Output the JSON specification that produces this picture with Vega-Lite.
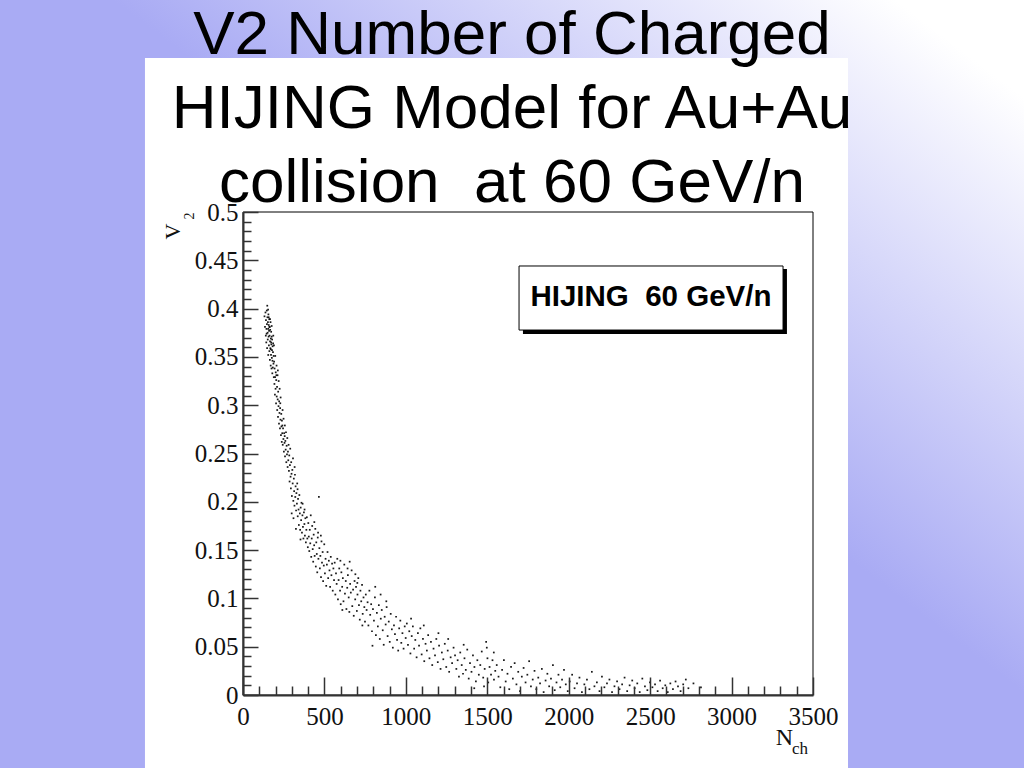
{
  "$schema": "https://vega.github.io/schema/vega-lite/v6.json",
  "width": 570,
  "height": 483,
  "autosize": {"type": "none"},
  "padding": {"left": 243, "top": 212, "right": 211, "bottom": 73},
  "background": "#a9abf4",
  "config": {"view": {"stroke": null}},
  "title": {
    "text": ["V2 Number of Charged", "HIJING Model for Au+Au", "collision\u00a0\u00a0at 60 GeV/n"],
    "font": "Liberation Sans",
    "fontSize": 62,
    "fontWeight": "normal",
    "color": "#000000",
    "anchor": "middle",
    "frame": "group",
    "lineHeight": 74,
    "baseline": "alphabetic",
    "offset": 0,
    "dx": -16,
    "dy": 274
  },
  "resolve": {"axis": {"x": "independent", "y": "independent"}},
  "layer": [
    {
      "data": {"values": [{"part": "slide"}]},
      "mark": {
        "type": "rect",
        "clip": false,
        "fill": {
          "gradient": "linear",
          "x1": 0, "y1": 1, "x2": 1, "y2": 0,
          "stops": [
            {"offset": 0, "color": "#a9abf4"},
            {"offset": 0.55, "color": "#a9abf4"},
            {"offset": 0.93, "color": "#ffffff"},
            {"offset": 1, "color": "#ffffff"}
          ]
        }
      },
      "encoding": {
        "x": {"datum": -1510, "type": "quantitative", "scale": {"domain": [0, 3500], "nice": false, "zero": false}, "axis": null},
        "x2": {"datum": 4810},
        "y": {"datum": 0.73, "type": "quantitative", "scale": {"domain": [0, 0.5], "nice": false, "zero": false}, "axis": null},
        "y2": {"datum": -0.08}
      }
    },
    {
      "data": {"values": [{"part": "panel"}]},
      "mark": {"type": "rect", "clip": false, "fill": "#ffffff"},
      "encoding": {
        "x": {"datum": -602, "type": "quantitative", "scale": {"domain": [0, 3500], "nice": false, "zero": false}, "axis": null},
        "x2": {"datum": 3715},
        "y": {"datum": 0.6594, "type": "quantitative", "scale": {"domain": [0, 0.5], "nice": false, "zero": false}, "axis": null},
        "y2": {"datum": -0.08}
      }
    },
    {
      "data": {"values": [{"part": "frame"}]},
      "mark": {"type": "rect", "clip": false, "filled": false, "stroke": "#000000", "strokeWidth": 1},
      "encoding": {
        "x": {"datum": 0, "type": "quantitative", "scale": {"domain": [0, 3500], "nice": false, "zero": false}, "axis": null},
        "x2": {"datum": 3500},
        "y": {"datum": 0.5, "type": "quantitative", "scale": {"domain": [0, 0.5], "nice": false, "zero": false}, "axis": null},
        "y2": {"datum": 0}
      }
    },
    {
      "data": {"values": [
        {"n":132,"v":0.392},{"n":135,"v":0.381},{"n":138,"v":0.396},{"n":140,"v":0.372},{"n":141,"v":0.388},{"n":143,"v":0.365},{"n":144,"v":0.379},{"n":146,"v":0.398},{"n":147,"v":0.384},{"n":148,"v":0.359},
        {"n":150,"v":0.391},{"n":151,"v":0.375},{"n":152,"v":0.368},{"n":153,"v":0.386},{"n":155,"v":0.379},{"n":155,"v":0.352},{"n":156,"v":0.394},{"n":157,"v":0.371},{"n":158,"v":0.383},{"n":159,"v":0.362},
        {"n":160,"v":0.377},{"n":161,"v":0.389},{"n":162,"v":0.356},{"n":163,"v":0.372},{"n":164,"v":0.381},{"n":165,"v":0.347},{"n":166,"v":0.366},{"n":167,"v":0.378},{"n":168,"v":0.359},{"n":169,"v":0.386},
        {"n":170,"v":0.341},{"n":171,"v":0.369},{"n":172,"v":0.352},{"n":173,"v":0.376},{"n":174,"v":0.363},{"n":175,"v":0.338},{"n":176,"v":0.371},{"n":177,"v":0.349},{"n":178,"v":0.357},{"n":179,"v":0.368},
        {"n":180,"v":0.333},{"n":181,"v":0.346},{"n":182,"v":0.361},{"n":183,"v":0.339},{"n":184,"v":0.355},{"n":186,"v":0.372},{"n":187,"v":0.343},{"n":188,"v":0.351},{"n":189,"v":0.329},{"n":190,"v":0.362},
        {"n":149,"v":0.403},{"n":154,"v":0.399},{"n":145,"v":0.374},{"n":158,"v":0.391},{"n":162,"v":0.381},{"n":166,"v":0.389},{"n":170,"v":0.358},{"n":173,"v":0.365},{"n":176,"v":0.382},{"n":185,"v":0.364},
        {"n":191,"v":0.345},{"n":193,"v":0.322},{"n":194,"v":0.338},{"n":196,"v":0.311},{"n":197,"v":0.329},{"n":198,"v":0.351},{"n":200,"v":0.317},{"n":201,"v":0.334},{"n":203,"v":0.302},{"n":204,"v":0.326},
        {"n":206,"v":0.341},{"n":207,"v":0.309},{"n":209,"v":0.319},{"n":210,"v":0.295},{"n":212,"v":0.331},{"n":213,"v":0.306},{"n":215,"v":0.288},{"n":216,"v":0.314},{"n":218,"v":0.299},{"n":219,"v":0.325},
        {"n":221,"v":0.281},{"n":222,"v":0.304},{"n":224,"v":0.292},{"n":225,"v":0.317},{"n":227,"v":0.276},{"n":228,"v":0.297},{"n":230,"v":0.285},{"n":231,"v":0.308},{"n":233,"v":0.269},{"n":235,"v":0.291},
        {"n":236,"v":0.278},{"n":238,"v":0.262},{"n":239,"v":0.284},{"n":241,"v":0.271},{"n":243,"v":0.295},{"n":244,"v":0.259},{"n":246,"v":0.276},{"n":248,"v":0.265},{"n":249,"v":0.286},{"n":251,"v":0.252},
        {"n":253,"v":0.271},{"n":255,"v":0.261},{"n":257,"v":0.279},{"n":258,"v":0.247},{"n":260,"v":0.263},{"n":262,"v":0.254},{"n":264,"v":0.272},{"n":266,"v":0.241},{"n":268,"v":0.258},{"n":270,"v":0.249},
        {"n":272,"v":0.266},{"n":274,"v":0.236},{"n":276,"v":0.252},{"n":278,"v":0.243},{"n":280,"v":0.259},{"n":205,"v":0.331},{"n":214,"v":0.336},{"n":229,"v":0.302},{"n":242,"v":0.279},{"n":256,"v":0.268},
        {"n":282,"v":0.232},{"n":284,"v":0.248},{"n":286,"v":0.221},{"n":288,"v":0.238},{"n":290,"v":0.255},{"n":292,"v":0.226},{"n":294,"v":0.214},{"n":296,"v":0.241},{"n":298,"v":0.229},{"n":300,"v":0.206},
        {"n":303,"v":0.233},{"n":305,"v":0.219},{"n":307,"v":0.245},{"n":309,"v":0.201},{"n":312,"v":0.224},{"n":314,"v":0.211},{"n":316,"v":0.196},{"n":319,"v":0.228},{"n":321,"v":0.205},{"n":323,"v":0.216},
        {"n":326,"v":0.191},{"n":328,"v":0.209},{"n":331,"v":0.198},{"n":333,"v":0.219},{"n":336,"v":0.185},{"n":338,"v":0.203},{"n":341,"v":0.192},{"n":343,"v":0.176},{"n":346,"v":0.207},{"n":349,"v":0.188},
        {"n":351,"v":0.171},{"n":354,"v":0.194},{"n":357,"v":0.181},{"n":359,"v":0.199},{"n":362,"v":0.168},{"n":365,"v":0.186},{"n":368,"v":0.174},{"n":371,"v":0.162},{"n":374,"v":0.189},{"n":377,"v":0.177},
        {"n":380,"v":0.165},{"n":383,"v":0.183},{"n":386,"v":0.158},{"n":389,"v":0.171},{"n":392,"v":0.184},{"n":395,"v":0.162},{"n":398,"v":0.153},{"n":317,"v":0.236},{"n":335,"v":0.213},{"n":353,"v":0.161},
        {"n":366,"v":0.198},{"n":378,"v":0.192},{"n":299,"v":0.188},{"n":310,"v":0.183},{"n":325,"v":0.172},
        {"n":401,"v":0.178},{"n":404,"v":0.164},{"n":407,"v":0.149},{"n":410,"v":0.171},{"n":413,"v":0.157},{"n":416,"v":0.186},{"n":419,"v":0.143},{"n":422,"v":0.162},{"n":425,"v":0.175},{"n":428,"v":0.151},
        {"n":431,"v":0.138},{"n":434,"v":0.166},{"n":437,"v":0.155},{"n":440,"v":0.144},{"n":444,"v":0.172},{"n":447,"v":0.133},{"n":450,"v":0.158},{"n":453,"v":0.146},{"n":456,"v":0.127},{"n":459,"v":0.163},
        {"n":463,"v":0.141},{"n":466,"v":0.205},{"n":469,"v":0.152},{"n":472,"v":0.131},{"n":475,"v":0.144},{"n":479,"v":0.122},{"n":482,"v":0.159},{"n":485,"v":0.137},{"n":489,"v":0.148},{"n":492,"v":0.118},
        {"n":496,"v":0.134},{"n":499,"v":0.156},{"n":503,"v":0.126},{"n":507,"v":0.141},{"n":511,"v":0.113},{"n":515,"v":0.135},{"n":519,"v":0.148},{"n":523,"v":0.121},{"n":527,"v":0.139},{"n":531,"v":0.129},
        {"n":535,"v":0.112},{"n":539,"v":0.143},{"n":543,"v":0.124},{"n":547,"v":0.136},{"n":551,"v":0.108},{"n":555,"v":0.131},{"n":559,"v":0.119},{"n":438,"v":0.179},{"n":461,"v":0.168},{"n":478,"v":0.165},
        {"n":563,"v":0.137},{"n":567,"v":0.104},{"n":571,"v":0.126},{"n":575,"v":0.115},{"n":579,"v":0.141},{"n":583,"v":0.099},{"n":587,"v":0.119},{"n":591,"v":0.131},{"n":596,"v":0.108},{"n":600,"v":0.094},
        {"n":604,"v":0.127},{"n":609,"v":0.112},{"n":613,"v":0.121},{"n":617,"v":0.097},{"n":622,"v":0.135},{"n":626,"v":0.105},{"n":631,"v":0.118},{"n":635,"v":0.089},{"n":640,"v":0.111},{"n":644,"v":0.124},
        {"n":649,"v":0.101},{"n":653,"v":0.086},{"n":658,"v":0.115},{"n":662,"v":0.106},{"n":667,"v":0.129},{"n":671,"v":0.092},{"n":676,"v":0.109},{"n":680,"v":0.082},{"n":685,"v":0.118},{"n":689,"v":0.099},
        {"n":694,"v":0.112},{"n":699,"v":0.087},{"n":703,"v":0.104},{"n":708,"v":0.121},{"n":712,"v":0.093},{"n":717,"v":0.078},{"n":721,"v":0.108},{"n":726,"v":0.097},{"n":731,"v":0.114},{"n":735,"v":0.084},
        {"n":740,"v":0.101},{"n":745,"v":0.091},{"n":749,"v":0.076},{"n":598,"v":0.139},{"n":642,"v":0.131},{"n":690,"v":0.125},{"n":610,"v":0.088},{"n":655,"v":0.138},{"n":702,"v":0.116},{"n":733,"v":0.072},
        {"n":754,"v":0.104},{"n":759,"v":0.088},{"n":765,"v":0.096},{"n":770,"v":0.072},{"n":776,"v":0.108},{"n":781,"v":0.083},{"n":787,"v":0.094},{"n":792,"v":0.066},{"n":798,"v":0.089},{"n":804,"v":0.077},
        {"n":810,"v":0.101},{"n":816,"v":0.062},{"n":822,"v":0.085},{"n":828,"v":0.071},{"n":834,"v":0.093},{"n":840,"v":0.058},{"n":846,"v":0.079},{"n":852,"v":0.088},{"n":858,"v":0.067},{"n":864,"v":0.052},
        {"n":870,"v":0.081},{"n":876,"v":0.073},{"n":882,"v":0.091},{"n":888,"v":0.061},{"n":895,"v":0.076},{"n":901,"v":0.055},{"n":907,"v":0.084},{"n":914,"v":0.068},{"n":920,"v":0.049},{"n":927,"v":0.072},
        {"n":933,"v":0.063},{"n":940,"v":0.081},{"n":946,"v":0.057},{"n":953,"v":0.046},{"n":959,"v":0.069},{"n":966,"v":0.077},{"n":972,"v":0.054},{"n":979,"v":0.064},{"n":986,"v":0.048},{"n":993,"v":0.071},
        {"n":999,"v":0.059},{"n":812,"v":0.112},{"n":845,"v":0.104},{"n":880,"v":0.097},{"n":795,"v":0.051},
        {"n":1006,"v":0.074},{"n":1013,"v":0.052},{"n":1021,"v":0.066},{"n":1028,"v":0.043},{"n":1036,"v":0.061},{"n":1043,"v":0.071},{"n":1051,"v":0.048},{"n":1058,"v":0.057},{"n":1066,"v":0.039},{"n":1074,"v":0.064},
        {"n":1081,"v":0.051},{"n":1089,"v":0.069},{"n":1097,"v":0.042},{"n":1105,"v":0.058},{"n":1113,"v":0.035},{"n":1121,"v":0.053},{"n":1129,"v":0.046},{"n":1137,"v":0.062},{"n":1145,"v":0.038},{"n":1154,"v":0.055},
        {"n":1162,"v":0.031},{"n":1170,"v":0.048},{"n":1179,"v":0.041},{"n":1187,"v":0.058},{"n":1196,"v":0.034},{"n":1204,"v":0.051},{"n":1213,"v":0.027},{"n":1221,"v":0.044},{"n":1230,"v":0.037},{"n":1239,"v":0.053},
        {"n":1248,"v":0.029},{"n":1257,"v":0.046},{"n":1266,"v":0.024},{"n":1275,"v":0.039},{"n":1284,"v":0.033},{"n":1293,"v":0.049},{"n":1032,"v":0.079},{"n":1110,"v":0.072},{"n":1200,"v":0.064},{"n":1260,"v":0.058},
        {"n":1302,"v":0.041},{"n":1310,"v":0.027},{"n":1318,"v":0.036},{"n":1326,"v":0.019},{"n":1334,"v":0.044},{"n":1343,"v":0.031},{"n":1351,"v":0.022},{"n":1360,"v":0.038},{"n":1368,"v":0.026},{"n":1377,"v":0.047},
        {"n":1386,"v":0.017},{"n":1394,"v":0.033},{"n":1403,"v":0.024},{"n":1412,"v":0.041},{"n":1421,"v":0.029},{"n":1430,"v":0.014},{"n":1439,"v":0.036},{"n":1448,"v":0.021},{"n":1457,"v":0.031},{"n":1466,"v":0.045},
        {"n":1475,"v":0.018},{"n":1484,"v":0.027},{"n":1493,"v":0.055},{"n":1497,"v":0.049},{"n":1501,"v":0.038},{"n":1506,"v":0.013},{"n":1514,"v":0.029},{"n":1523,"v":0.021},{"n":1532,"v":0.036},{"n":1541,"v":0.016},
        {"n":1549,"v":0.025},{"n":1355,"v":0.052},{"n":1420,"v":0.007},{"n":1480,"v":0.009},{"n":1540,"v":0.044},
        {"n":1558,"v":0.031},{"n":1569,"v":0.019},{"n":1580,"v":0.008},{"n":1591,"v":0.026},{"n":1602,"v":0.036},{"n":1613,"v":0.014},{"n":1624,"v":0.022},{"n":1635,"v":0.006},{"n":1646,"v":0.029},{"n":1657,"v":0.017},
        {"n":1668,"v":0.033},{"n":1679,"v":0.011},{"n":1690,"v":0.024},{"n":1701,"v":0.004},{"n":1712,"v":0.019},{"n":1723,"v":0.028},{"n":1735,"v":0.013},{"n":1746,"v":0.021},{"n":1757,"v":0.035},{"n":1768,"v":0.009},
        {"n":1779,"v":0.016},{"n":1790,"v":0.025},{"n":1801,"v":0.006},{"n":1813,"v":0.018},{"n":1824,"v":0.012},{"n":1835,"v":0.027},{"n":1846,"v":0.003},{"n":1858,"v":0.015},{"n":1869,"v":0.022},{"n":1880,"v":0.009},
        {"n":1891,"v":0.017},{"n":1903,"v":0.031},{"n":1914,"v":0.005},{"n":1925,"v":0.013},{"n":1937,"v":0.021},{"n":1948,"v":0.008},{"n":1959,"v":0.016},{"n":1971,"v":0.026},{"n":1982,"v":0.011},{"n":1994,"v":0.004},
        {"n":2006,"v":0.014},{"n":2021,"v":0.021},{"n":2036,"v":0.007},{"n":2051,"v":0.012},{"n":2066,"v":0.018},{"n":2081,"v":0.003},{"n":2096,"v":0.011},{"n":2112,"v":0.016},{"n":2127,"v":0.006},{"n":2142,"v":0.024},
        {"n":2158,"v":0.009},{"n":2173,"v":0.013},{"n":2189,"v":0.004},{"n":2204,"v":0.019},{"n":2219,"v":0.008},{"n":2235,"v":0.012},{"n":2250,"v":0.016},{"n":2266,"v":0.003},{"n":2281,"v":0.009},{"n":2297,"v":0.014},
        {"n":2312,"v":0.006},{"n":2328,"v":0.011},{"n":2343,"v":0.018},{"n":2359,"v":0.004},{"n":2374,"v":0.01},{"n":2390,"v":0.015},{"n":2405,"v":0.007},{"n":2421,"v":0.012},{"n":2436,"v":0.003},{"n":2452,"v":0.017},
        {"n":2468,"v":0.009},{"n":2483,"v":0.005},{"n":2499,"v":0.013},{"n":2514,"v":0.008},{"n":2530,"v":0.011},{"n":2546,"v":0.004},{"n":2561,"v":0.015},{"n":2577,"v":0.007},{"n":2593,"v":0.01},{"n":2608,"v":0.003},
        {"n":2624,"v":0.012},{"n":2640,"v":0.006},{"n":2656,"v":0.014},{"n":2671,"v":0.009},{"n":2687,"v":0.004},{"n":2703,"v":0.011},{"n":2719,"v":0.016},{"n":2735,"v":0.007},{"n":2766,"v":0.012},{"n":2812,"v":0.008}
      ]},
      "mark": {"type": "square", "size": 3, "color": "#000000", "opacity": 0.9},
      "encoding": {
        "x": {
          "field": "n", "type": "quantitative",
          "scale": {"domain": [0, 3500], "nice": false, "zero": false},
          "axis": {
            "values": [0,100,200,300,400,500,600,700,800,900,1000,1100,1200,1300,1400,1500,1600,1700,1800,1900,2000,2100,2200,2300,2400,2500,2600,2700,2800,2900,3000,3100,3200,3300,3400,3500],
            "format": "d",
            "labelExpr": "datum.value % 500 === 0 ? datum.label : ''",
            "tickSize": {"condition": {"test": "datum.value % 500 === 0", "value": -18}, "value": -9},
            "tickColor": "#333333",
            "tickWidth": 1.5,
            "domainColor": "#333333",
            "domainWidth": 2,
            "grid": false,
            "labelFont": "Liberation Serif",
            "labelFontSize": 25,
            "labelColor": "#111111",
            "labelPadding": 27,
            "labelFlush": false,
            "labelOverlap": false,
            "title": "N",
            "titleFont": "Liberation Serif",
            "titleFontSize": 24,
            "titleFontWeight": "normal",
            "titleColor": "#111111",
            "titleAlign": "center",
            "titleBaseline": "middle",
            "titleX": 541,
            "titleY": 42,
            "zindex": 1
          }
        },
        "y": {
          "field": "v", "type": "quantitative",
          "scale": {"domain": [0, 0.5], "nice": false, "zero": false},
          "axis": {
            "values": [0,0.01,0.02,0.03,0.04,0.05,0.06,0.07,0.08,0.09,0.1,0.11,0.12,0.13,0.14,0.15,0.16,0.17,0.18,0.19,0.2,0.21,0.22,0.23,0.24,0.25,0.26,0.27,0.28,0.29,0.3,0.31,0.32,0.33,0.34,0.35,0.36,0.37,0.38,0.39,0.4,0.41,0.42,0.43,0.44,0.45,0.46,0.47,0.48,0.49,0.5],
            "format": "~g",
            "labelExpr": "round(datum.value * 100) % 5 === 0 ? datum.label : ''",
            "tickSize": {"condition": {"test": "round(datum.value * 100) % 5 === 0", "value": -15}, "value": -8},
            "tickColor": "#333333",
            "tickWidth": 1.5,
            "domainColor": "#333333",
            "domainWidth": 2,
            "grid": false,
            "labelFont": "Liberation Serif",
            "labelFontSize": 25,
            "labelColor": "#111111",
            "labelPadding": 20,
            "labelFlush": false,
            "labelOverlap": false,
            "title": "V",
            "titleFont": "Liberation Serif",
            "titleFontSize": 22,
            "titleFontWeight": "normal",
            "titleColor": "#111111",
            "titleAngle": 270,
            "titleAlign": "center",
            "titleBaseline": "middle",
            "titleX": -71,
            "titleY": 19,
            "zindex": 1
          }
        }
      }
    },
    {
      "data": {"values": [{"part": "shadow"}]},
      "mark": {"type": "rect", "clip": false, "fill": "#000000"},
      "encoding": {
        "x": {"datum": 1719, "type": "quantitative", "scale": {"domain": [0, 3500], "nice": false, "zero": false}, "axis": null},
        "x2": {"datum": 3340},
        "y": {"datum": 0.441, "type": "quantitative", "scale": {"domain": [0, 0.5], "nice": false, "zero": false}, "axis": null},
        "y2": {"datum": 0.3737}
      }
    },
    {
      "data": {"values": [{"part": "box"}]},
      "mark": {"type": "rect", "clip": false, "fill": "#ffffff", "stroke": "#000000", "strokeWidth": 1},
      "encoding": {
        "x": {"datum": 1695, "type": "quantitative", "scale": {"domain": [0, 3500], "nice": false, "zero": false}, "axis": null},
        "x2": {"datum": 3316},
        "y": {"datum": 0.4441, "type": "quantitative", "scale": {"domain": [0, 0.5], "nice": false, "zero": false}, "axis": null},
        "y2": {"datum": 0.3778}
      }
    },
    {
      "data": {"values": [{"label": "HIJING\u00a0\u00a060 GeV/n"}]},
      "mark": {"type": "text", "clip": false, "font": "Liberation Sans", "fontWeight": "bold", "fontSize": 29.5, "align": "center", "baseline": "middle", "color": "#000000"},
      "encoding": {
        "text": {"field": "label"},
        "x": {"datum": 2505, "type": "quantitative", "scale": {"domain": [0, 3500], "nice": false, "zero": false}, "axis": null},
        "y": {"datum": 0.4117, "type": "quantitative", "scale": {"domain": [0, 0.5], "nice": false, "zero": false}, "axis": null}
      }
    },
    {
      "data": {"values": [{"label": "2"}]},
      "mark": {"type": "text", "clip": false, "font": "Liberation Serif", "fontSize": 14, "angle": 270, "align": "center", "baseline": "middle", "color": "#111111"},
      "encoding": {
        "text": {"field": "label"},
        "x": {"datum": -328, "type": "quantitative", "scale": {"domain": [0, 3500], "nice": false, "zero": false}, "axis": null},
        "y": {"datum": 0.4959, "type": "quantitative", "scale": {"domain": [0, 0.5], "nice": false, "zero": false}, "axis": null}
      }
    },
    {
      "data": {"values": [{"label": "ch"}]},
      "mark": {"type": "text", "clip": false, "font": "Liberation Serif", "fontSize": 17, "align": "center", "baseline": "middle", "color": "#111111"},
      "encoding": {
        "text": {"field": "label"},
        "x": {"datum": 3420, "type": "quantitative", "scale": {"domain": [0, 3500], "nice": false, "zero": false}, "axis": null},
        "y": {"datum": -0.0559, "type": "quantitative", "scale": {"domain": [0, 0.5], "nice": false, "zero": false}, "axis": null}
      }
    }
  ]
}
